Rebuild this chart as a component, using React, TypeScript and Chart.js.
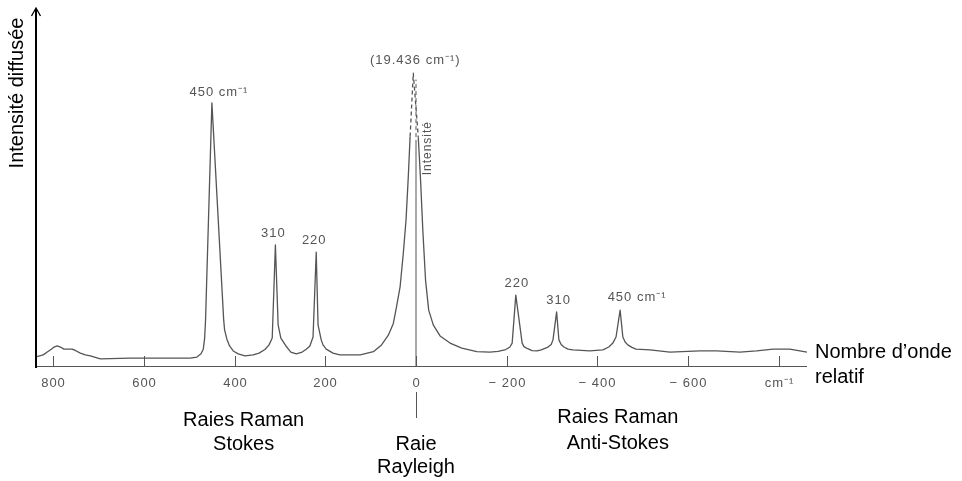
import React, { useEffect, useRef } from "react";
import { Chart, registerables } from "chart.js";

Chart.register(...registerables);

// Relative wavenumber (cm⁻¹), Stokes side positive, and the diffused intensity (arbitrary units)
const wavenumbers = [
  840, 822, 813, 804, 798, 791, 784, 776, 767, 758, 749, 740,
  729, 718, 696, 630, 558, 498, 483, 474, 469, 466, 464, 450,
  424, 422, 417, 411, 403, 392, 377, 359, 346, 333, 324, 317,
  310, 304, 298, 285, 276, 264, 251, 242, 234, 227, 220, 216,
  209, 205, 198, 183, 168, 123, 94, 76, 61, 50, 43, 35,
  28, 22, 17, 13, 6, -5, -10, -15, -21, -28, -38, -53,
  -75, -101, -134, -163, -181, -198, -207, -212, -220, -234, -238, -245,
  -256, -267, -276, -291, -298, -302, -310, -315, -320, -326, -335, -346,
  -383, -412, -425, -434, -441, -450, -456, -461, -467, -476, -485, -516,
  -560, -626, -663, -714, -751, -787, -824, -862,
];
const intensity = [
  2.5, 3.1, 3.9, 4.7, 5.3, 5.6, 5.3, 4.7, 4.7, 4.7, 4.2, 3.6,
  3.1, 2.8, 2.0, 2.2, 2.2, 2.2, 2.5, 3.4, 4.7, 7.8, 12.8, 73.5,
  12.8, 10.1, 7.5, 5.6, 4.2, 3.4, 2.8, 3.1, 3.6, 4.6, 5.9, 7.8,
  33.8, 11.5, 7.8, 5.3, 3.9, 3.4, 3.9, 4.7, 5.6, 8.1, 31.8, 11.5,
  7.3, 5.9, 4.7, 3.6, 3.1, 3.1, 4.0, 5.9, 8.6, 11.9, 16.5, 22.2,
  31.5, 40.8, 52.9, 64.1, 81.8, 63.9, 52.0, 38.0, 24.0, 15.6, 11.5, 8.4,
  6.4, 5.0, 4.0, 3.9, 4.1, 4.6, 5.3, 6.4, 19.8, 6.4, 5.4, 4.9,
  4.3, 4.2, 4.5, 5.3, 6.0, 7.3, 15.1, 7.3, 6.0, 5.3, 4.7, 4.5,
  4.2, 4.5, 5.3, 6.4, 8.1, 15.6, 8.1, 6.7, 5.9, 5.2, 4.7, 4.5,
  3.9, 4.2, 4.2, 3.9, 4.2, 4.7, 4.7, 3.9,
];

// Rayleigh line marker (x = 0), from the axis up to the top of the central peak
const rayleighX = [0, 0, 0];
const rayleighY = [0, 62, 80];

const tickValues = [800, 600, 400, 200, 0, -200, -400, -600, -800];
const tickLabels = ["800", "600", "400", "200", "0", "− 200", "− 400", "− 600", "cm⁻¹"];

const peakPositions = [450, 310, 220, 0, -220, -310, -450];
const peakLabels = ["450 cm⁻¹", "310", "220", "(19.436 cm⁻¹)", "220", "310", "450 cm⁻¹"];
// pixel offsets of each peak caption from the peak top
const peakLabelOffsets = [
  [7, -10], [-2, -12], [-2, -12], [2, -13], [1, -12], [2, -12], [17, -13],
];

const regionCenters = [380, 0, -445];
const regionLabels = [
  ["Raies Raman", "Stokes"],
  ["Raie", "Rayleigh"],
  ["Raies Raman", "Anti-Stokes"],
];

const DASH_LEVEL = 60;
const GREY = "#555";
const SANS = '"Liberation Sans", Arial, Helvetica, sans-serif';

function peakTop(pos: number) {
  let best = 0;
  let bestX = pos;
  wavenumbers.forEach((w, i) => {
    if (Math.abs(w - pos) <= 10 && intensity[i] > best) {
      best = intensity[i];
      bestX = w;
    }
  });
  return { x: pos === 0 ? bestX : pos, y: best };
}

const decorPlugin = {
  id: "spectrumDecor",
  afterDraw(chart: any) {
    const { ctx, chartArea, scales } = chart;
    const xs = scales.x;
    const ys = scales.y;
    const axisY = ys.getPixelForValue(0);

    ctx.save();

    // horizontal axis with inward ticks
    ctx.strokeStyle = GREY;
    ctx.lineWidth = 1;
    ctx.beginPath();
    ctx.moveTo(chartArea.left, axisY + 0.5);
    ctx.lineTo(chartArea.right, axisY + 0.5);
    ctx.stroke();

    ctx.fillStyle = GREY;
    ctx.font = `13px ${SANS}`;
    ctx.textAlign = "center";
    ctx.textBaseline = "middle";
    (ctx as any).letterSpacing = "1px";
    tickValues.forEach((v, i) => {
      const px = Math.round(xs.getPixelForValue(v)) + 0.5;
      ctx.beginPath();
      ctx.moveTo(px, axisY - 10);
      ctx.lineTo(px, axisY);
      ctx.stroke();
      ctx.fillText(tickLabels[i], px, axisY + 17);
    });

    // Rayleigh marker below the axis
    const zx = Math.round(xs.getPixelForValue(0)) + 0.5;
    ctx.beginPath();
    ctx.moveTo(zx, axisY + 26);
    ctx.lineTo(zx, axisY + 52);
    ctx.stroke();

    // peak captions
    peakPositions.forEach((p, i) => {
      const top = peakTop(p);
      const px = xs.getPixelForValue(top.x) + peakLabelOffsets[i][0];
      const py = ys.getPixelForValue(top.y) + peakLabelOffsets[i][1];
      ctx.fillText(peakLabels[i], px, py);
    });

    // small vertical caption beside the Rayleigh peak
    const rt = peakTop(0);
    ctx.save();
    ctx.font = `12px ${SANS}`;
    ctx.translate(xs.getPixelForValue(0) + 12, ys.getPixelForValue(rt.y) + 75);
    ctx.rotate(-Math.PI / 2);
    ctx.fillText("Intensité", 0, 0);
    ctx.restore();
    (ctx as any).letterSpacing = "0px";

    // vertical axis with arrow
    const ax = chartArea.left + 1;
    ctx.strokeStyle = "#000";
    ctx.lineWidth = 2;
    ctx.beginPath();
    ctx.moveTo(ax, axisY + 2);
    ctx.lineTo(ax, chartArea.top + 1);
    ctx.stroke();
    ctx.lineWidth = 1.3;
    ctx.beginPath();
    ctx.moveTo(ax - 4.5, chartArea.top + 8);
    ctx.lineTo(ax, chartArea.top);
    ctx.lineTo(ax + 4.5, chartArea.top + 8);
    ctx.stroke();

    // black captions
    ctx.fillStyle = "#000";
    ctx.font = `20px ${SANS}`;
    ctx.save();
    ctx.translate(17, 93);
    ctx.rotate(-Math.PI / 2);
    ctx.fillText("Intensité diffusée", 0, 0);
    ctx.restore();

    const regionRows = [
      [420, 444],
      [444, 467],
      [417, 443],
    ];
    regionCenters.forEach((c, i) => {
      const px = xs.getPixelForValue(c);
      ctx.fillText(regionLabels[i][0], px, regionRows[i][0]);
      ctx.fillText(regionLabels[i][1], px, regionRows[i][1]);
    });

    ctx.textAlign = "left";
    ctx.fillText("Nombre d’onde", chartArea.right + 8, 352);
    ctx.fillText("relatif", chartArea.right + 8, 377);

    ctx.restore();
  },
};

const dashAbove = (c: any) =>
  c.p0.parsed.y > DASH_LEVEL && c.p1.parsed.y > DASH_LEVEL ? [4, 3] : undefined;

export default function App() {
  const ref = useRef<HTMLCanvasElement | null>(null);

  useEffect(() => {
    document.body.style.margin = "0";
    document.body.style.background = "#fff";
    const canvas = ref.current;
    if (!canvas) return;

    const spectrum = wavenumbers.map((w, i) => ({ x: w, y: intensity[i] }));
    const marker = rayleighX.map((w, i) => ({ x: w, y: rayleighY[i] }));

    const chart = new Chart(canvas, {
      type: "line",
      data: {
        datasets: [
          {
            data: spectrum,
            borderColor: GREY,
            borderWidth: 1.3,
            pointRadius: 0,
            tension: 0,
            borderJoinStyle: "round",
            segment: { borderDash: dashAbove },
          },
          {
            data: marker,
            borderColor: GREY,
            borderWidth: 1,
            pointRadius: 0,
            segment: { borderDash: dashAbove },
          },
        ],
      },
      options: {
        responsive: false,
        animation: false,
        parsing: false,
        layout: { padding: { left: 35, right: 155, top: 8, bottom: 115 } },
        scales: {
          x: { type: "linear", reverse: true, min: -862, max: 840, display: false },
          y: { type: "linear", min: 0, max: 100, display: false },
        },
        plugins: { legend: { display: false }, tooltip: { enabled: false } },
      },
      plugins: [decorPlugin],
    });

    return () => chart.destroy();
  }, []);

  return <canvas ref={ref} width={962} height={481} style={{ display: "block" }} />;
}
